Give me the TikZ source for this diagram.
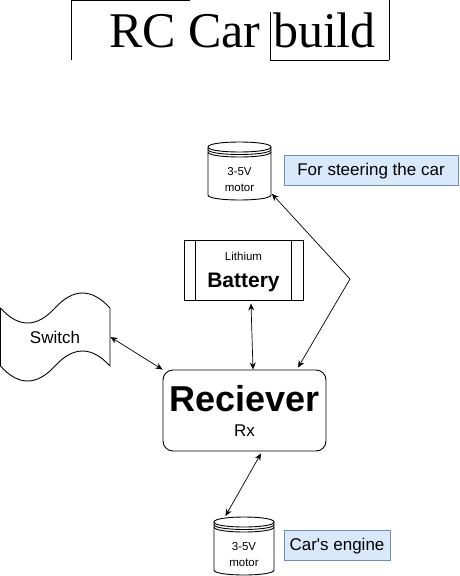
\documentclass[tikz,border=0pt]{standalone}
\usepackage{fontspec}
\setmainfont{Liberation Serif}
\newfontfamily\arialf{Liberation Sans}
\usetikzlibrary{arrows.meta,calc}
\definecolor{lblfill}{HTML}{DAE8FC}
\definecolor{lbldraw}{HTML}{6C8EBF}

\newcommand\motorshape[5]{%
  \node[inner sep=0pt, minimum width=#4pt, minimum height=#5pt, anchor=north west] (#1) at (#2,#3) {};
  \begin{scope}[shift={(#2,#3)}]
    \draw[line join=round] (0,5) .. controls (0,-1.67) and (#4,-1.67) .. (#4,5) -- (#4,#5-5)
      .. controls (#4,#5+1.67) and (0,#5+1.67) .. (0,#5-5) -- cycle;
    \draw (0,5) .. controls (0,11.67) and (#4,11.67) .. (#4,5);
    \draw (0,7.5) .. controls (0,14.17) and (#4,14.17) .. (#4,7.5);
    \draw (0,10) .. controls (0,16.67) and (#4,16.67) .. (#4,10);
  \end{scope}}

\begin{document}
\begin{tikzpicture}[x=1pt,y=-1pt, line width=0.9pt,
  arr/.style={{Stealth[length=7pt,width=6pt]}-{Stealth[length=7pt,width=6pt]}, line width=0.7pt},
  sans/.style={font=\arialf\fontsize{#1}{#1}\selectfont},
  sansb/.style={font=\arialf\bfseries\fontsize{#1}{#1}\selectfont},
  lbl/.style={draw=lbldraw, fill=lblfill, inner sep=0pt, minimum height=30pt,
    text height=11.7pt, text depth=0.3pt, sans=17}]
\useasboundingbox (0,0) rectangle (460,576);

% title
\node[anchor=base, inner sep=0pt, font=\fontsize{50}{50}\selectfont] (title) at (242.5,47) {RC Car build};
\draw (71,0.5) -- (190,0.5);
\draw (71,0) -- (71,60);
\draw (389,0) -- (389,60);
\draw (270,60) -- (389,60);
\draw (270,12) -- (270,60);

% top motor
\motorshape{m1}{208}{142}{63}{58}
\node[anchor=base, inner sep=0pt, sans=11.5] (m1a) at (239.5,175) {3-5V};
\node[anchor=base, inner sep=0pt, sans=11.5] (m1b) at (239.5,191.5) {motor};
\node[lbl, minimum width=174pt] (steer) at (371,170) {For steering the car};

% battery
\node[draw, inner sep=0pt, minimum width=119pt, minimum height=60pt] (bat) at (243.5,270) {};
\draw (bat.north west) ++(12,0) -- ++(0,60);
\draw (bat.north east) ++(-12,0) -- ++(0,60);
\node[anchor=base, inner sep=0pt, sans=11.5] (batA) at (243.5,260) {Lithium};
\node[anchor=base, inner sep=0pt, sansb=21] (batB) at (243.5,287) {Battery};

% switch (tape)
\draw[line join=round] (0.5,308) .. controls (18.33,328) and (36.67,328) .. (55,308)
  .. controls (73.33,288) and (91.67,288) .. (110,308) -- (110,366)
  .. controls (91.67,346) and (73.33,346) .. (55,366)
  .. controls (36.67,386) and (18.33,386) .. (0.5,366) -- cycle;
\node[inner sep=0pt, minimum width=110pt, minimum height=88pt, sans=17] (sw) at (55,337) {Switch};

% receiver
\node[draw, rounded corners=10pt, inner sep=0pt, minimum width=163pt, minimum height=81pt] (rx) at (244.5,410.5) {};
\node[anchor=base, inner sep=0pt, sansb=36] (rxA) at (244.5,411.5) {Reciever};
\node[anchor=base, inner sep=0pt, sans=17] (rxB) at (244.5,436.5) {Rx};

% bottom motor
\motorshape{m2}{214}{517}{60}{58}
\node[anchor=base, inner sep=0pt, sans=11.5] (m2a) at (244,550) {3-5V};
\node[anchor=base, inner sep=0pt, sans=11.5] (m2b) at (244,566.5) {motor};
\node[lbl, minimum width=106pt] (eng) at (337,545) {Car's engine};

% connectors
\coordinate (bend) at (350,279);
\draw[arr] (sw.east) -- (rx.north west);
\draw[arr] ($(bat.south)+(7.5,3)$) -- ($(rx.north)+(8.5,0)$);
\draw[arr, line join=round] (m1.-35) -- (bend) -- ($(rx.north)+(53.5,-2)$);
\draw[arr] ($(rx.south)+(16.5,2)$) -- ($(m2.north)+(-19,-1)$);
\end{tikzpicture}
\end{document}
